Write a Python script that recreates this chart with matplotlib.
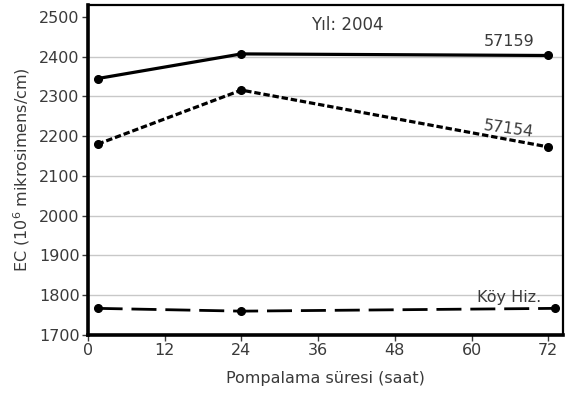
import matplotlib
matplotlib.use("Agg")
import matplotlib.pyplot as plt

# Pumping time (hours) and EC readings per well
hours = [1.5, 24, 72]
ec_57159 = [2345, 2407, 2403]
ec_57154 = [2180, 2316, 2173]
hours_koy = [1.5, 24, 73]
ec_koy = [1767, 1760, 1767]

x_ticks = [0, 12, 24, 36, 48, 60, 72]
y_ticks = [1700, 1800, 1900, 2000, 2100, 2200, 2300, 2400, 2500]

txt = "#3a3a3a"
plt.rcParams["font.family"] = ["DejaVu Sans"]

fig = plt.figure(figsize=(5.67, 3.99), dpi=100)
ax = fig.add_axes([88 / 567, 1 - 335 / 399, (563 - 88) / 567, (335 - 5) / 399])

for y in y_ticks[1:-1]:
    ax.axhline(y, color="#c8c8c8", lw=1.0, zorder=0)

ax.plot(hours, ec_57159, color="black", lw=2.3, marker="o", ms=5.5,
        solid_capstyle="butt")
ax.plot(hours, ec_57154, color="black", lw=2.3, marker="o", ms=5.5,
        linestyle=(0, (2.0, 0.9)))
ax.plot(hours_koy, ec_koy, color="black", lw=2.0, marker="o", ms=5.5,
        linestyle=(0, (9.0, 3.2)))

ax.set_xlim(0, 74.3)
ax.set_ylim(1700, 2530)
ax.set_xticks(x_ticks)
ax.set_yticks(y_ticks)
ax.tick_params(axis="both", labelsize=11.5, colors=txt, length=4, width=1,
               direction="out")
ax.tick_params(axis="y", pad=2)
ax.tick_params(axis="x", pad=2)
for lab in ax.get_xticklabels() + ax.get_yticklabels():
    lab.set_color(txt)

for side in ("left", "bottom"):
    ax.spines[side].set_linewidth(2.6)
for side in ("top", "right"):
    ax.spines[side].set_linewidth(1.6)

ax.text(40.5, 2480, "Yıl: 2004", ha="center", va="center", fontsize=12, color=txt)
ax.text(65.8, 2437, "57159", ha="center", va="center", fontsize=11.5, color=txt)
ax.text(65.8, 2218, "57154", ha="center", va="center", fontsize=11.5, color=txt,
        rotation=-8)
ax.text(65.8, 1795, "Köy Hiz.", ha="center", va="center", fontsize=11.5, color=txt)

ax.set_xlabel("Pompalama süresi (saat)", fontsize=11.5, color=txt, labelpad=9)
ax.set_ylabel("EC (10$^{6}$ mikrosimens/cm)", fontsize=11.5, color=txt, labelpad=5)

fig.savefig("out.png", dpi=100)
